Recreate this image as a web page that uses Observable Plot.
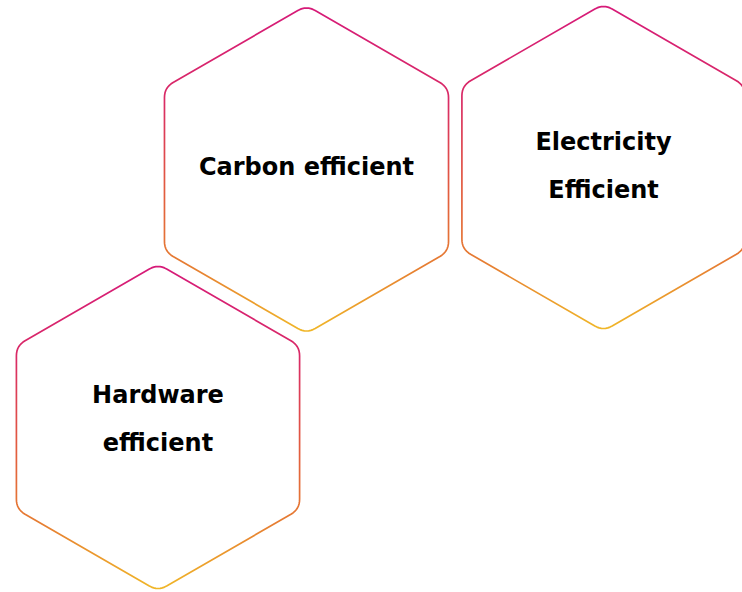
<!DOCTYPE html>
<html><head><meta charset="utf-8">
<script src="https://cdn.jsdelivr.net/npm/d3@7"></script>
<script src="https://cdn.jsdelivr.net/npm/@observablehq/plot@0.6"></script>
<style>html,body{margin:0;padding:0;background:#fff;} svg{display:block}</style>
</head><body><div id="chart"></div>
<script>
// Diagram content
const labels = ["Carbon efficient", "Electricity\nEfficient", "Hardware\nefficient"];
// Hexagon layout (pixel units of the canvas)
const centerX = [306, 603, 157.5];
const centerY = [169, 167, 427];
const radius = [164, 163.5, 163.5];
const labelY = [167.3, 158.6, 411.6];
const cornerCut = 10;

function hexPoints(i) {
  const cx = centerX[i], cy = centerY[i], R = radius[i];
  const verts = d3.range(6).map(k => {
    const a = (-90 + 60 * k) * Math.PI / 180;
    return [cx + R * Math.cos(a), cy + R * Math.sin(a)];
  });
  const pts = [];
  verts.forEach((v, k) => {
    const prev = verts[(k + 5) % 6], next = verts[(k + 1) % 6];
    const f = cornerCut / R;
    const p1 = [v[0] + (prev[0] - v[0]) * f, v[1] + (prev[1] - v[1]) * f];
    const p2 = [v[0] + (next[0] - v[0]) * f, v[1] + (next[1] - v[1]) * f];
    for (let s = 0; s <= 8; s++) {
      const t = s / 8;
      pts.push([
        (1 - t) * (1 - t) * p1[0] + 2 * (1 - t) * t * v[0] + t * t * p2[0],
        (1 - t) * (1 - t) * p1[1] + 2 * (1 - t) * t * v[1] + t * t * p2[1]
      ]);
    }
  });
  return pts;
}

const hexRows = labels.flatMap((label, i) => hexPoints(i).map(([x, y]) => ({label, x, y})));
const textRows = labels.map((label, i) => ({label, x: centerX[i], y: labelY[i]}));
const singleLine = textRows.filter(d => !d.label.includes("\n"));
const multiLine = textRows.filter(d => d.label.includes("\n"));

const gradientDefs = () => {
  const g = d3.create("svg:g");
  const lg = g.append("defs").append("linearGradient")
    .attr("id", "hexGrad").attr("x1", 0).attr("y1", 0).attr("x2", 0).attr("y2", 1);
  [[0, "#d61a78"], [0.28, "#d92a66"], [0.55, "#e25a40"], [0.8, "#e67e32"], [1, "#f0b628"]]
    .forEach(([o, c]) => lg.append("stop").attr("offset", o).attr("stop-color", c));
  return g.node();
};

const textStyle = {x: "x", y: "y", text: "label", fontSize: 24, fontWeight: 700,
  fontFamily: "'DejaVu Sans', sans-serif", fill: "#000"};

const chart = Plot.plot({
  width: 742,
  height: 592,
  margin: 0,
  x: {domain: [0, 742], range: [0, 742], axis: null},
  y: {domain: [0, 592], range: [0, 592], axis: null},
  style: {background: "#fff", overflow: "hidden"},
  marks: [
    gradientDefs,
    Plot.line(hexRows, {x: "x", y: "y", z: "label", curve: "linear-closed",
      stroke: "url(#hexGrad)", strokeWidth: 1.7, fill: "white"}),
    Plot.text(singleLine, {...textStyle, lineHeight: 1}),
    Plot.text(multiLine, {...textStyle, lineHeight: 2})
  ]
});
document.getElementById("chart").append(chart);
</script>
</body></html>
